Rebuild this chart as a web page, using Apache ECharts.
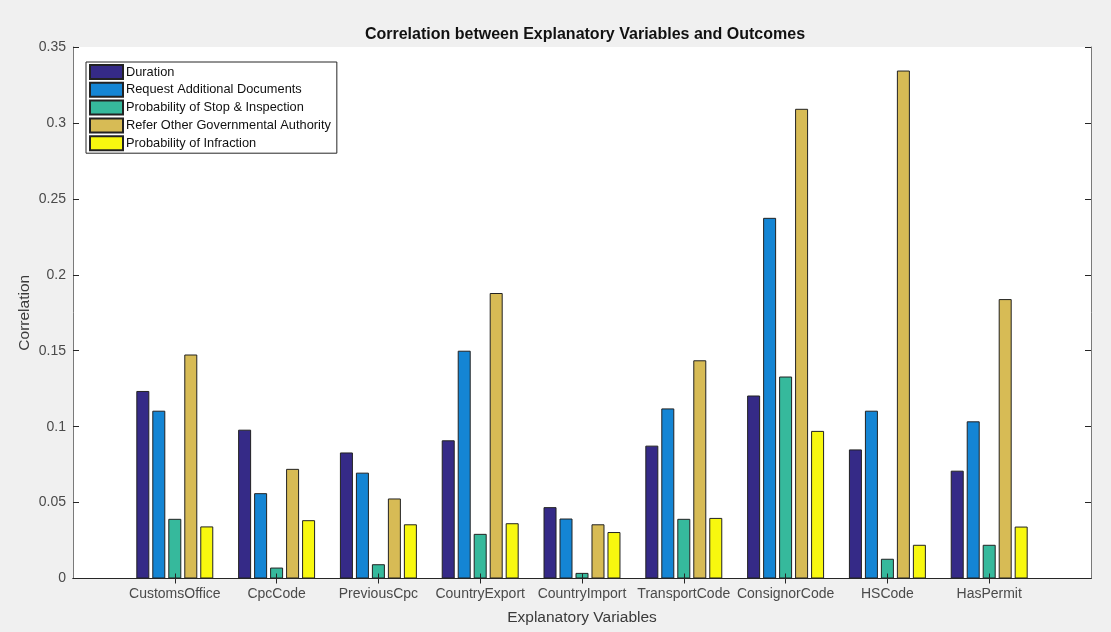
<!DOCTYPE html>
<html>
<head>
<meta charset="utf-8">
<script src="https://cdn.jsdelivr.net/npm/echarts@6/dist/echarts.min.js"></script>
<style>
html,body{margin:0;padding:0;background:#f0f0f0;}
#c{width:1111px;height:632px;}
</style>
</head>
<body>
<div id="c"></div>
<script>
const categories = ['CustomsOffice','CpcCode','PreviousCpc','CountryExport','CountryImport','TransportCode','ConsignorCode','HSCode','HasPermit'];
const seriesNames = ['Duration','Request Additional Documents','Probability of Stop & Inspection','Refer Other Governmental Authority','Probability of Infraction'];
const duration   = [0.1235, 0.0980, 0.0830, 0.0910, 0.0470, 0.0875, 0.1205, 0.0850, 0.0710];
const requestDoc = [0.1105, 0.0562, 0.0697, 0.1500, 0.0395, 0.1120, 0.2375, 0.1105, 0.1035];
const stopInsp   = [0.0393, 0.0072, 0.0094, 0.0294, 0.0037, 0.0393, 0.1330, 0.0130, 0.0222];
const referOGA   = [0.1475, 0.0722, 0.0527, 0.1880, 0.0357, 0.1437, 0.3093, 0.3345, 0.1840];
const infraction = [0.0343, 0.0384, 0.0357, 0.0364, 0.0306, 0.0399, 0.0972, 0.0222, 0.0342];
const yTicks = [0, 0.05, 0.1, 0.15, 0.2, 0.25, 0.3, 0.35];

const colors = ['#352a87','#1485d4','#36b99c','#d7bb55','#f8f80f'];
const allValues = [duration, requestDoc, stopInsp, referOGA, infraction];

// pad with empty slots so category positions sit at 1..9 of a 0..10 range
const padCats = [''].concat(categories, ['']);
const pad = arr => ['-'].concat(arr, ['-']);
const innerTick = idx => idx > 0 && idx < padCats.length - 1;

const axisCol = '#262626';
const sideCol = '#7a7a7a';
const font = 'Liberation Sans, Arial, Helvetica, sans-serif';

const chart = echarts.init(document.getElementById('c'), null, {renderer:'canvas'});
chart.setOption({
  backgroundColor: '#f0f0f0',
  animation: false,
  textStyle: {fontFamily: font},
  title: {
    text: 'Correlation between Explanatory Variables and Outcomes',
    left: 580, top: 22, textAlign: 'center',
    textStyle: {fontSize: 16, fontWeight: 'bold', color: '#111', fontFamily: font}
  },
  legend: {
    orient: 'vertical',
    left: 86, top: 62,
    itemWidth: 33, itemHeight: 14, itemGap: 1.8,
    padding: [2, 6, 2, 3],
    backgroundColor: '#ffffff',
    borderColor: axisCol, borderWidth: 1, borderRadius: 0,
    icon: 'rect',
    data: seriesNames,
    textStyle: {fontSize: 12.8, lineHeight: 14, color: '#111', fontFamily: font, padding: [0,0,0,-2]}
  },
  grid: {
    left: 73, right: 20, top: 47, bottom: 53.5,
    show: true, backgroundColor: '#ffffff', borderWidth: 0
  },
  xAxis: [{
    type: 'category',
    data: padCats,
    boundaryGap: false,
    position: 'bottom',
    z: 10,
    axisLine: {show: true, lineStyle: {color: axisCol, width: 1}},
    axisTick: {show: true, inside: true, length: 5, interval: innerTick, lineStyle: {color: axisCol}},
    axisLabel: {show: true, interval: 0, margin: 9, fontSize: 14, color: '#4a4a4a', fontFamily: font},
    splitLine: {show: false},
    name: 'Explanatory Variables',
    nameLocation: 'middle', nameGap: 31,
    nameTextStyle: {fontSize: 15.5, color: '#3a3a3a', fontFamily: font}
  }, {
    type: 'category',
    data: padCats,
    boundaryGap: false,
    position: 'top',
    z: 10,
    axisLine: {show: true, lineStyle: {color: axisCol, width: 1}},
    axisTick: {show: true, inside: true, length: 5, interval: innerTick, lineStyle: {color: axisCol}},
    axisLabel: {show: false},
    splitLine: {show: false}
  }],
  yAxis: [{
    type: 'value',
    min: 0, max: 0.35, interval: 0.05,
    position: 'left',
    z: 10,
    axisLine: {show: true, lineStyle: {color: sideCol, width: 1}},
    axisTick: {show: true, inside: true, length: 6, lineStyle: {color: axisCol}},
    axisLabel: {show: true, margin: 7, fontSize: 14, color: '#4a4a4a', fontFamily: font,
      formatter: v => String(yTicks.find(t => Math.abs(t - v) < 1e-9) ?? v)},
    splitLine: {show: false},
    name: 'Correlation',
    nameLocation: 'middle', nameGap: 40,
    nameMoveOverlap: false,
    nameTextStyle: {fontSize: 15.5, color: '#3a3a3a', fontFamily: font}
  }, {
    type: 'value',
    min: 0, max: 0.35, interval: 0.05,
    position: 'right',
    z: 10,
    axisLine: {show: true, lineStyle: {color: sideCol, width: 1}},
    axisTick: {show: true, inside: true, length: 6, lineStyle: {color: axisCol}},
    axisLabel: {show: false},
    splitLine: {show: false}
  }],
  series: seriesNames.map((name, i) => ({
    name: name,
    type: 'bar',
    xAxisIndex: 0, yAxisIndex: 0,
    data: pad(allValues[i]),
    barWidth: 13,
    barGap: '23%',
    itemStyle: {color: colors[i], borderColor: '#222', borderWidth: 1},
    emphasis: {disabled: true}
  }))
});
</script>
</body>
</html>
